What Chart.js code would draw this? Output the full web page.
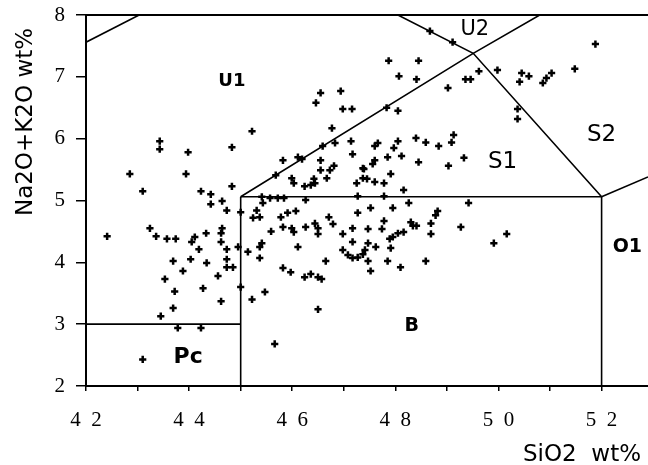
<!DOCTYPE html>
<html>
<head>
<meta charset="utf-8">
<script src="https://cdn.jsdelivr.net/npm/chart.js@4.4.1/dist/chart.umd.min.js"></script>
<style>
  html, body { margin: 0; padding: 0; background: #ffffff; }
  #wrap { width: 648px; height: 465px; position: relative; }
</style>
</head>
<body>
<div id="wrap"><canvas id="c"></canvas></div>
<script>
// ---- sample values (SiO2 wt%, Na2O+K2O wt%) ----
const siO2 = [42.41,42.85,43.10,43.43,43.43,43.98,43.94,44.83,45.22,44.83,44.23,44.42,44.42,44.64,44.73,44.64,43.24,43.36,43.57,43.74,44.05,44.11,44.19,44.33,44.62,44.62,44.73,44.73,44.73,44.85,44.95,43.69,44.03,44.34,43.88,43.53,44.56,43.72,44.27,43.69,44.62,43.45,43.78,44.23,43.10,45.00,45.00,
46.55,46.46,46.94,46.98,47.16,46.77,47.87,48.45,48.07,48.41,48.67,49.11,
49.02,46.59,46.83,47.14,47.17,46.11,46.19,45.82,46.55,45.68,46.81,46.73,46.67,46.55,45.99,46.03,46.24,46.36,46.42,46.44,47.25,47.37,47.37,45.41,45.57,45.72,45.84,46.26,47.27,47.83,48.05,48.40,48.59,48.05,49.13,49.09,48.84,47.66,47.60,47.97,47.85,48.12,47.60,47.56,48.45,49.33,49.03,47.39,47.91,47.45,47.60,47.78,48.16,47.78,49.62,49.36,49.46,
49.98,50.45,50.59,50.41,51.03,50.93,50.86,51.48,51.88,50.37,50.37,
45.43,45.31,45.24,45.37,45.78,45.91,46.07,45.59,45.82,45.99,46.03,46.26,46.44,46.50,46.50,46.71,46.79,47.27,47.17,46.98,47.17,45.14,45.37,45.41,46.11,45.37,46.98,47.08,47.17,47.27,47.37,46.65,45.82,45.97,46.24,46.36,46.50,46.57,45.47,45.22,46.50,45.66,48.26,49.42,47.52,47.95,48.82,48.78,47.78,47.74,47.47,48.30,48.41,48.34,48.69,48.69,49.27,48.16,48.05,47.95,47.89,47.47,47.62,47.41,47.91,47.47,47.85,47.52,48.10,48.59,49.91,50.16];
const alkali = [4.42,5.43,5.15,5.96,5.83,5.78,5.43,5.86,6.12,5.23,5.15,5.10,4.94,4.99,4.84,4.55,4.55,4.42,4.38,4.38,4.33,4.41,4.21,4.47,4.47,4.33,4.21,4.05,3.92,3.92,4.25,4.02,4.05,3.99,3.86,3.73,3.78,3.53,3.58,3.26,3.37,3.13,2.94,2.94,2.43,4.81,3.60,
6.74,6.58,6.77,6.48,6.48,6.17,7.26,7.26,7.01,6.96,7.74,7.56,
6.82,5.88,5.93,5.96,5.75,5.70,5.67,5.65,5.65,5.41,5.56,5.49,5.36,5.49,5.36,5.28,5.23,5.25,5.35,5.28,5.28,5.52,5.36,5.06,5.04,5.04,5.04,5.01,5.07,6.50,6.45,6.01,5.94,5.96,6.06,5.94,5.88,5.93,5.88,5.85,5.70,5.72,5.65,5.59,5.62,5.69,5.56,5.51,5.43,5.35,5.30,5.28,5.17,5.07,7.09,6.96,6.96,
7.11,7.06,7.01,6.92,7.06,6.98,6.90,7.13,7.53,6.48,6.32,
4.96,4.84,4.72,4.73,4.73,4.80,4.83,4.50,4.57,4.55,4.49,4.57,4.63,4.55,4.46,4.73,4.62,4.80,4.55,4.46,4.33,4.17,4.25,4.31,4.25,4.07,4.20,4.12,4.07,4.08,4.13,4.02,3.91,3.84,3.76,3.81,3.76,3.73,3.52,3.40,3.24,2.68,4.96,4.96,4.88,4.88,4.83,4.76,4.67,4.54,4.54,4.65,4.59,4.59,4.63,4.46,4.57,4.49,4.47,4.41,4.38,4.31,4.25,4.20,4.23,4.02,4.02,3.86,3.92,4.02,4.31,4.46];

// ---- field boundaries (x = SiO2, y = Na2O+K2O) ----
const bndCornerX = [42, 43.03];            const bndCornerY = [7.56, 8];
const bndPcX = [42, 45];                   const bndPcY = [3, 3];
const bnd45X = [45, 45];                   const bnd45Y = [2, 5.06];
const bndBTopX = [45, 52];                 const bndBTopY = [5.06, 5.06];
const bndS1X = [45, 49.51, 50.8];          const bndS1Y = [5.06, 7.38, 8];
const bndS2X = [48.05, 49.51, 52];         const bndS2Y = [8, 7.38, 5.06];
const bnd52X = [52, 52];                   const bnd52Y = [2, 5.06];
const bndO2X = [52, 52.9];                 const bndO2Y = [5.06, 5.38];

// ---- field names ----
const fieldNames = ['U1', 'U2', 'S1', 'S2', 'O1', 'B', 'Pc'];
const fieldX = [44.83, 49.54, 50.08, 52.0, 52.5, 48.32, 43.98];
const fieldY = [6.93, 7.76, 5.62, 6.06, 4.25, 2.97, 2.47];
const fieldBold = [true, false, false, false, true, true, true];
const fieldSize = [18, 21, 23, 23, 19, 19, 22];

// ---- axes ----
const xTickValues = [42, 43, 44, 45, 46, 47, 48, 49, 50, 51, 52];
const xLabelValues = [42, 44, 46, 48, 50, 52];
const xMin = 42, xMax = 52.9, yMin = 2, yMax = 8;
const xTitle = 'SiO2  wt%';
const yTitle = 'Na2O+K2O wt%';

const zip = (xs, ys) => xs.map((x, i) => ({ x: x, y: ys[i] }));

const boundaries = [
  [bndCornerX, bndCornerY], [bndPcX, bndPcY], [bnd45X, bnd45Y], [bndBTopX, bndBTopY],
  [bndS1X, bndS1Y], [bndS2X, bndS2Y], [bnd52X, bnd52Y], [bndO2X, bndO2Y]
];

const datasets = boundaries.map(b => ({
  type: 'line',
  data: zip(b[0], b[1]),
  borderColor: '#000',
  borderWidth: 1.6,
  pointRadius: 0,
  fill: false,
  tension: 0,
  order: 2
}));
datasets.push({
  type: 'scatter',
  data: zip(siO2, alkali),
  pointStyle: 'cross',
  pointRadius: 3.6,
  borderWidth: 2.5,
  borderColor: '#000',
  backgroundColor: '#000',
  order: 1
});

const annotatePlugin = {
  id: 'annot',
  afterDatasetsDraw(chart) {
    const { ctx, chartArea, scales } = chart;
    ctx.save();
    ctx.strokeStyle = '#000';
    ctx.lineWidth = 2;
    ctx.beginPath();
    ctx.moveTo(chartArea.left, chartArea.top);
    ctx.lineTo(chartArea.right, chartArea.top);
    ctx.stroke();
    ctx.fillStyle = '#000';
    ctx.textAlign = 'center';
    ctx.textBaseline = 'middle';
    fieldNames.forEach((n, i) => {
      ctx.font = (fieldBold[i] ? 'bold ' : '') + fieldSize[i] + 'px "DejaVu Sans"';
      ctx.fillText(n, scales.x.getPixelForValue(fieldX[i]), scales.y.getPixelForValue(fieldY[i]));
    });
    ctx.restore();
  },
  afterDraw(chart) {
    const { ctx } = chart;
    ctx.save();
    ctx.fillStyle = '#000';
    ctx.font = '23px "DejaVu Sans"';
    ctx.textAlign = 'right';
    ctx.textBaseline = 'alphabetic';
    ctx.fillText(xTitle, 641, 461);
    ctx.translate(32, 122);
    ctx.rotate(-Math.PI / 2);
    ctx.textAlign = 'center';
    ctx.fillText(yTitle, 0, 0);
    ctx.restore();
  }
};

function zeroPad(scale) {
  scale.paddingLeft = 0; scale.paddingRight = 0;
  scale.paddingTop = 0; scale.paddingBottom = 0;
}

new Chart(document.getElementById('c'), {
  data: { datasets: datasets },
  options: {
    responsive: true,
    maintainAspectRatio: false,
    devicePixelRatio: 1,
    animation: false,
    layout: { autoPadding: false, padding: { top: 15, right: 0, left: 0, bottom: 0 } },
    plugins: { legend: { display: false }, tooltip: { enabled: false }, title: { display: false } },
    scales: {
      x: {
        type: 'linear',
        min: xMin, max: xMax,
        afterBuildTicks(scale) { scale.ticks = xTickValues.map(v => ({ value: v })); },
        afterFit(scale) { scale.height = 79; zeroPad(scale); },
        border: { display: true, color: '#000', width: 2 },
        grid: { display: true, drawOnChartArea: false, drawTicks: true, tickLength: 5, color: '#000', lineWidth: 1.5 },
        ticks: {
          autoSkip: false, maxRotation: 0, padding: 17,
          color: '#000',
          font: { family: '"Liberation Serif", "Times New Roman", serif', size: 21 },
          callback: (v) => xLabelValues.includes(v) ? String(v).split('').join('\u2002') : ''
        }
      },
      y: {
        type: 'linear',
        min: yMin, max: yMax,
        afterFit(scale) { scale.width = 86; zeroPad(scale); },
        border: { display: true, color: '#000', width: 2 },
        grid: { display: true, drawOnChartArea: false, drawTicks: true, tickLength: 10, color: '#000', lineWidth: 1.5 },
        ticks: {
          stepSize: 1, padding: 11, color: '#000',
          font: { family: '"Liberation Serif", "Times New Roman", serif', size: 21 }
        }
      }
    }
  },
  plugins: [annotatePlugin]
});
</script>
</body>
</html>
